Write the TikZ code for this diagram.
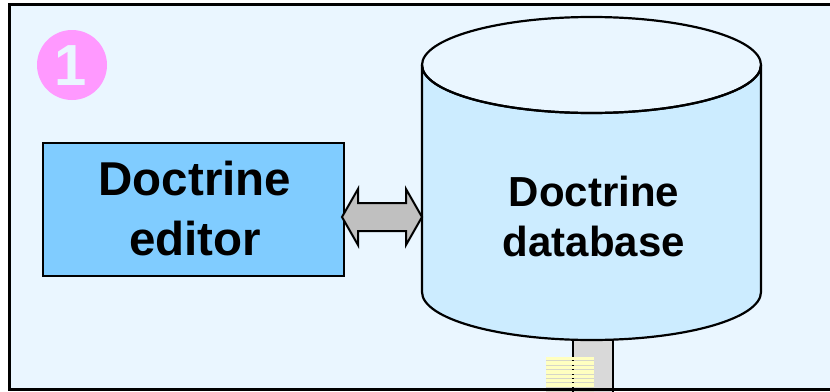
\documentclass[tikz,border=0pt]{standalone}
\usepackage{fontspec}
\setmainfont{Liberation Sans}
\usetikzlibrary{positioning, calc}
\definecolor{paneblue}{RGB}{234,246,255}
\definecolor{boxblue}{RGB}{128,204,255}
\definecolor{cylblue}{RGB}{204,236,255}
\definecolor{pinkdot}{RGB}{255,153,255}
\definecolor{stemgray}{RGB}{217,217,217}
\definecolor{padyellow}{RGB}{255,255,192}
\definecolor{padline}{RGB}{214,214,200}
\definecolor{arrowgray}{RGB}{192,192,192}

\begin{document}
\begin{tikzpicture}[x=1pt,y=-1pt,
  outline/.style={draw=black,line width=2.2pt},
  bigtext/.style={font=\bfseries\fontsize{47.5}{60}\selectfont,align=center,inner sep=0pt}]
\useasboundingbox (0,0) rectangle (830,391);
\fill[white] (0,0) rectangle (830,391);
\fill[paneblue] (9,4) rectangle (840,389);

% number badge
\fill[pinkdot] (72,65) circle (35);
\node[font=\bfseries\fontsize{58}{58}\selectfont,text=paneblue,inner sep=0pt] (num) at (71,66) {1};

% editor box
\node[outline,fill=boxblue,minimum width=301pt,minimum height=133pt,anchor=north west,inner sep=0pt] (editor) at (42,142) {};
\node[bigtext] (edtext) at (195,209) {Doctrine\\editor};

% stem under the database
\fill[stemgray] (573,320) rectangle (613,395);
\draw[line width=2pt] (573,320) -- (573,395) (613,320) -- (613,395);
\fill[padline] (546,357) rectangle (594,392);
\draw[line width=1.5pt] (573,357) -- (573,392);
\foreach \y in {357,361.4,...,392}
  \fill[padyellow] (546,\y) rectangle (594,\y+3.3);

% database cylinder
\filldraw[outline,fill=cylblue] (422,65) -- (422,292) arc (180:0:169.5 and 48) -- (761,65) arc (0:180:169.5 and 48) -- cycle;
\draw[outline] (591.5,65) ellipse (169.5 and 48);
\node[bigtext,font=\bfseries\fontsize{42}{50}\selectfont] (dbtext) at (594,216) {Doctrine\\database};

% two-way arrow
\coordinate (arrL) at (342,217);
\coordinate (dbleft) at (422,217);
\draw[line width=2pt,fill=arrowgray,line join=miter] (arrL) -- ++(16,-28) -- ++(0,14)
  -- ($(dbleft)+(-16,-14)$) -- ++(0,-14) -- (dbleft) -- ++(-16,28) -- ++(0,-14)
  -- ($(arrL)+(16,14)$) -- ++(0,14) -- cycle;

% frame
\draw[line width=3pt] (840,4) -- (9,4) -- (9,389) -- (840,389);
\end{tikzpicture}
\end{document}
